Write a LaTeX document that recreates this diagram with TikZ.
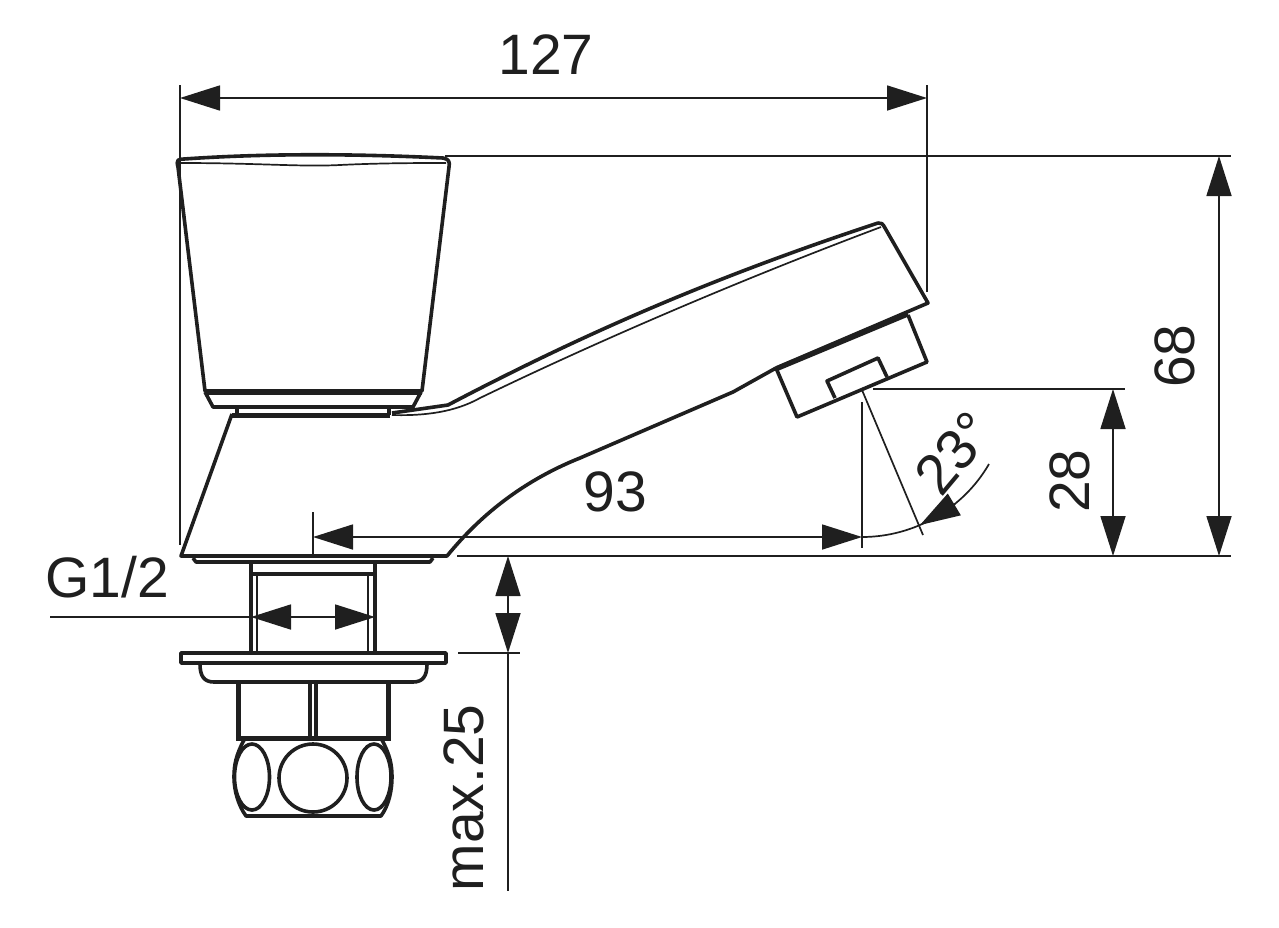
\documentclass[tikz,border=0pt]{standalone}
\usepackage{fontspec}
\setmainfont{Liberation Sans}
\usetikzlibrary{arrows.meta}
\tikzset{
  dimtip/.tip={Triangle[length=40pt,width=25pt]},
  outline/.style={line width=3.6pt,line join=round,color=black!88},
  heavy/.style={line width=5pt,color=black!88},
  fine/.style={line width=1.7pt,color=black!88},
  dimline/.style={line width=1.7pt,color=black!88},
  dimlabel/.style={font=\fontsize{57}{60}\selectfont,color=black!88,inner sep=0pt}
}
\begin{document}
\begin{tikzpicture}[x=1pt,y=-1pt]
    \useasboundingbox (0,0) rectangle (1279,927);

    % Draw the handle
    \draw[outline] (178,167) .. controls (176,160) and (178,159) .. (184,159)
        .. controls (270,153) and (360,154) .. (443,158)
        .. controls (449,159) and (450,162) .. (449,167) -- (422,391) -- (205,391) -- cycle;
    \draw[fine] (180,163) .. controls (260,163) and (300,167) .. (340,165) .. controls (380,163) and (420,163) .. (446,163);
    \draw[heavy] (205,392) -- (422,392);
    \draw[outline] (205,392) -- (213,407) -- (413,407) -- (421,392);
    \draw[outline] (237,408) -- (237,415);
    \draw[outline] (389,408) -- (389,415);
    \draw[heavy] (232,415) -- (390,415);

    % Draw the body and the spout
    \draw[outline] (232,414) -- (181,556) -- (447,556)
        .. controls (478,518) and (520,482) .. (580,458)
        -- (733,392) -- (776,368);
    \draw[outline] (392,413) -- (448,405)
        .. controls (600,325) and (730,272) .. (878,223)
        .. controls (881,222) and (883,224) .. (885,228)
        -- (928,303) -- (776,368);
    \draw[fine] (392,415) .. controls (425,416) and (455,412) .. (480,398)
        .. controls (600,340) and (740,280) .. (881,227);
    \draw[heavy] (776,369) -- (908,314);

    % Draw the aerator
    \draw[outline] (776,368) -- (797,417) -- (927,362) -- (908,315);
    \draw[outline] (835,398) -- (827,381) -- (878,358) -- (887,377);

    % Draw the plate and the threaded stem
    \draw[outline] (193,558) -- (196,562) -- (430,562) -- (433,558);
    \draw[outline] (251,563) -- (251,653);
    \draw[outline] (375,563) -- (375,653);
    \draw[outline] (251,574) -- (375,574);
    \draw[fine] (257,574) -- (257,653);
    \draw[fine] (368,574) -- (368,653);

    % Draw the flange
    \draw[outline] (181,653) rectangle (446,663);
    \draw[outline] (200,664) .. controls (200,676) and (204,682) .. (214,682) -- (413,682)
        .. controls (423,682) and (427,676) .. (427,664);

    % Draw the nut
    \draw[heavy] (238,682) -- (238,738) -- (388,738) -- (388,682);
    \draw[outline] (310,682) -- (310,738);
    \draw[outline] (316,682) -- (316,738);

    % Draw the ball end
    \draw[outline] (244,740) .. controls (236,755) and (234,765) .. (234,777)
        .. controls (234,790) and (238,805) .. (246,816) -- (381,816)
        .. controls (389,805) and (392,790) .. (392,777)
        .. controls (392,765) and (390,755) .. (382,740);
    \draw[outline] (252,777) ellipse (17.5 and 33);
    \draw[outline] (374,777) ellipse (17 and 33);
    \draw[outline] (313,778) circle (34);

    % Extension lines
    \coordinate (widthL) at (180,98);
    \coordinate (widthR) at (927,98);
    \coordinate (topA) at (445,156);
    \coordinate (topB) at (1231,156);
    \coordinate (floorA) at (457,556);
    \coordinate (floorB) at (1231,556);
    \coordinate (outletA) at (873,389);
    \coordinate (outletB) at (1125,389);
    \coordinate (reachL) at (313,537);
    \coordinate (reachR) at (862,537);
    \draw[dimline] (180,85) -- (180,545);
    \draw[dimline] (927,85) -- (927,292);
    \draw[dimline] (topA) -- (topB);
    \draw[dimline] (floorA) -- (floorB);
    \draw[dimline] (outletA) -- (outletB);
    \draw[dimline] (313,512) -- (313,555);
    \draw[dimline] (862,402) -- (862,548);
    \draw[dimline] (458,653) -- (520,653);

    % Dimension arrows
    \draw[dimline,{dimtip}-{dimtip}] (widthL) -- (widthR);
    \draw[dimline,{dimtip}-{dimtip}] (1219,156) -- (1219,556);
    \draw[dimline,{dimtip}-{dimtip}] (1113,389) -- (1113,556);
    \draw[dimline,{dimtip}-{dimtip}] (reachL) -- (reachR);

    % Thread size
    \coordinate (threadFree) at (50,617);
    \coordinate (threadL) at (251,617);
    \coordinate (threadR) at (375,617);
    \draw[dimline] (threadFree) -- (threadL);
    \draw[dimline,{dimtip}-{dimtip}] (threadL) -- (threadR);

    % Clearance below the deck
    \draw[dimline,{dimtip}-{dimtip}] (508,556) -- (508,653);
    \draw[dimline] (508,653) -- (508,891);

    % Spout angle
    \coordinate (angleApex) at (862,390);
    \coordinate (angleFoot) at (923,535);
    \draw[dimline] (angleApex) -- (angleFoot);
    \draw[dimline] (reachR) .. controls (914,537) and (963,509) .. (989,464);
    \draw[dimline,-{dimtip}] (955,504) -- (920,525);

    % Labels
    \node[dimlabel] (lblWidth) at (546,55) {127};
    \node[dimlabel] (lblReach) at (615,492) {93};
    \node[dimlabel,rotate=90] (lblHeight) at (1175,356) {68};
    \node[dimlabel,rotate=90] (lblOutlet) at (1070,481) {28};
    \node[dimlabel,rotate=50] (lblAngle) at (954,453) {23°};
    \node[dimlabel] (lblThread) at (107,577) {G1/2};
    \node[dimlabel,rotate=90] (lblMax) at (464,798) {max.25};
\end{tikzpicture}
\end{document}
